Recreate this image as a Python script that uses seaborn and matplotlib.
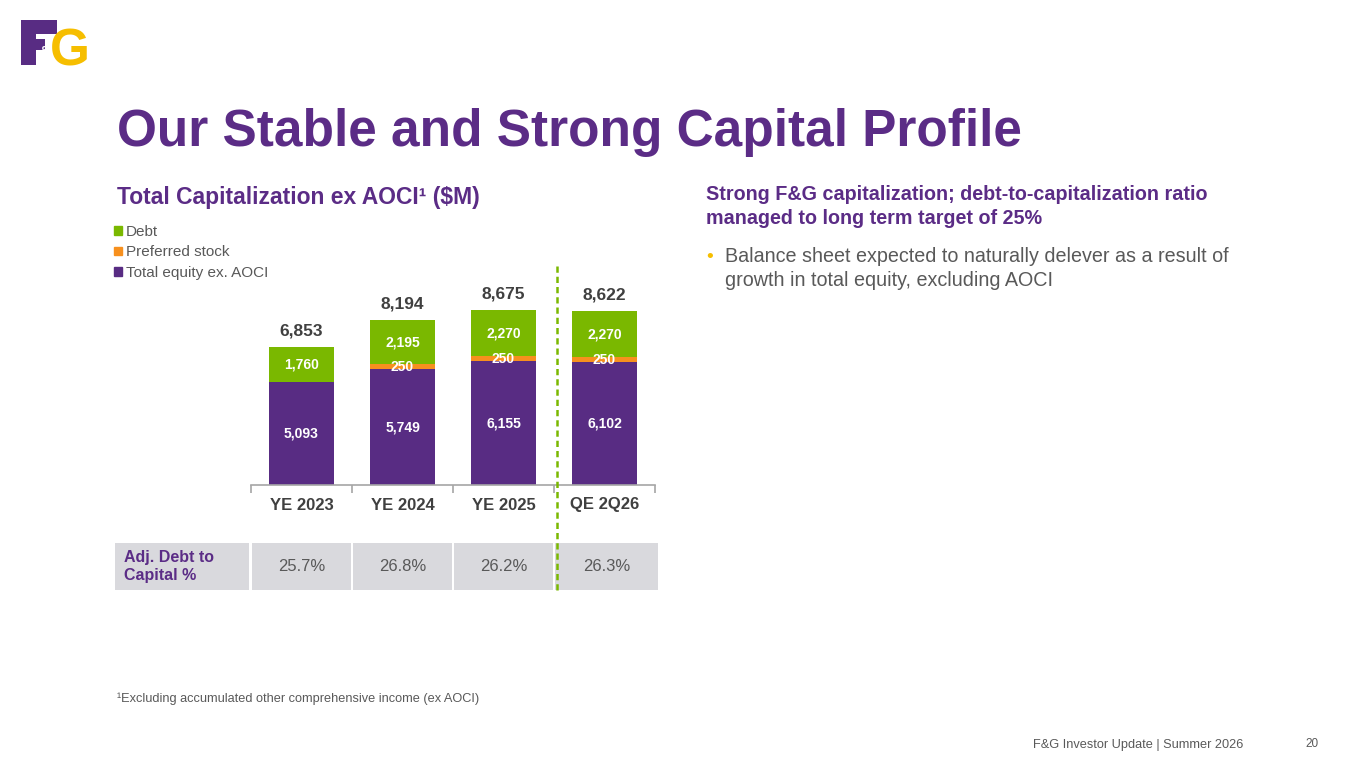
import matplotlib
matplotlib.use("Agg")
import matplotlib.pyplot as plt
from matplotlib.patches import Patch, Rectangle
import seaborn as sns
import pandas as pd

# Chart data
categories = ["YE 2023", "YE 2024", "YE 2025", "QE 2Q26"]
equity = [5093, 5749, 6155, 6102]
preferred = [0, 250, 250, 250]
debt = [1760, 2195, 2270, 2270]
totals = [6853, 8194, 8675, 8622]
ratios = ["25.7%", "26.8%", "26.2%", "26.3%"]

PURPLE = "#582C83"
TITLE = "#5B2C86"
GREEN = "#7AB800"
ORANGE = "#F7901E"
GOLD = "#F6BE00"
DARK = "#404040"
GREY = "#595959"
CELL = "#D9D9DD"

sns.set_theme(style="white")
plt.rcParams["font.family"] = ["Liberation Sans", "DejaVu Sans"]

W, H = 1365, 768
fx = lambda px: px / W
fy = lambda py: 1 - py / H

fig = plt.figure(figsize=(W / 100, H / 100), dpi=100)

df = pd.DataFrame({
    "cat": categories,
    "equity": equity,
    "eq_pref": [e + p for e, p in zip(equity, preferred)],
    "total": [e + p + d for e, p, d in zip(equity, preferred, debt)],
})

# table under the bars (drawn first so the dashed line sits on top)
tx = fig.add_axes([fx(115), fy(590), fx(658) - fx(115), (590 - 543) / H])
x0 = -0.5 - 136 / 101
tx.set_xlim(x0, 3.5 + 3 / 101)
tx.set_ylim(0, 1)
tx.axis("off")
tx.add_patch(Rectangle((x0, 0), 136 / 101 - 0.02, 1, color=CELL, lw=0))
tx.text(x0 + 0.09, 0.5, "Adj. Debt to\nCapital %", ha="left", va="center",
        color=TITLE, fontsize=11.5, fontweight="bold", linespacing=1.25)
for i, r in enumerate(ratios):
    right = 1.03 if i == len(ratios) - 1 else 0.98
    tx.add_patch(Rectangle((i - 0.49, 0), right, 1, color=CELL, lw=0))
    tx.text(i + (0.025 if i == len(ratios) - 1 else 0), 0.5, r, ha="center", va="center",
            color=GREY, fontsize=12)

# bar axes: baseline at y=485px, x from 251 to 655px
ymax = 10000
ax = fig.add_axes([fx(251), fy(485), fx(655) - fx(251), (ymax * 0.02014) / H])
ax.set_zorder(3)
ax.patch.set_alpha(0)
bw = 0.645
sns.barplot(data=df, x="cat", y="total", color=GREEN, width=bw, saturation=1, linewidth=0, ax=ax)
sns.barplot(data=df, x="cat", y="eq_pref", color=ORANGE, width=bw, saturation=1, linewidth=0, ax=ax)
sns.barplot(data=df, x="cat", y="equity", color=PURPLE, width=bw, saturation=1, linewidth=0, ax=ax)
ax.set_xlim(-0.5, 3.5)
ax.set_ylim(0, ymax)
ax.set_xlabel("")
ax.set_ylabel("")
ax.set_yticks([])
sns.despine(ax=ax, left=True, top=True, right=True)
ax.spines["bottom"].set_color("#A6A6A6")
ax.spines["bottom"].set_linewidth(1.2)
ax.set_xticks([-0.5, 0.5, 1.5, 2.5, 3.5], minor=True)
ax.tick_params(axis="x", which="minor", length=6, width=1.2, color="#A6A6A6", direction="out", bottom=True)
ax.tick_params(axis="x", which="major", length=0, pad=9)
for lab in ax.get_xticklabels():
    lab.set_fontsize(12)
    lab.set_fontweight("bold")
    lab.set_color(DARK)

for i in range(len(categories)):
    ax.text(i, equity[i] / 2, f"{equity[i]:,}", ha="center", va="center",
            color="white", fontsize=10, fontweight="bold")
    if preferred[i]:
        ax.text(i, equity[i] + preferred[i] / 2, f"{preferred[i]:,}", ha="center", va="center",
                color="white", fontsize=10, fontweight="bold")
    top = equity[i] + preferred[i]
    ax.text(i, top + debt[i] / 2, f"{debt[i]:,}", ha="center", va="center",
            color="white", fontsize=10, fontweight="bold")
    ax.text(i, totals[i] + 420, f"{totals[i]:,}", ha="center", va="bottom",
            color=DARK, fontsize=12.5, fontweight="bold")

# dashed separator before the latest quarter
ax.axvline(2.53, ymin=(485 - 590) / 201.4, ymax=(485 - 264) / 201.4, clip_on=False,
           color=GREEN, linewidth=1.8, dashes=(2.5, 1.6), zorder=5)

# legend
handles = [Patch(color=GREEN, label="Debt"),
           Patch(color=ORANGE, label="Preferred stock"),
           Patch(color=PURPLE, label="Total equity ex. AOCI")]
leg = fig.legend(handles=handles, loc="upper left", bbox_to_anchor=(fx(114), fy(225)),
                 frameon=False, fontsize=11, handlelength=0.5, handleheight=0.5,
                 handletextpad=0.3, labelspacing=0.42, borderpad=0, borderaxespad=0)
for t in leg.get_texts():
    t.set_color(GREY)

# texts
fig.text(fx(117), fy(146), "Our Stable and Strong Capital Profile", color=TITLE,
         fontsize=37, fontweight="bold", va="baseline")
fig.text(fx(117), fy(204), "Total Capitalization ex AOCI\u00b9 ($M)", color=TITLE,
         fontsize=16.5, fontweight="bold", va="baseline")
fig.text(fx(706), fy(200), "Strong F&G capitalization; debt-to-capitalization ratio",
         color=TITLE, fontsize=14.2, fontweight="bold", va="baseline")
fig.text(fx(706), fy(224), "managed to long term target of 25%",
         color=TITLE, fontsize=14.2, fontweight="bold", va="baseline")
fig.text(fx(706), fy(262), "\u2022", color=GOLD, fontsize=14, va="baseline")
fig.text(fx(725), fy(262), "Balance sheet expected to naturally delever as a result of",
         color=GREY, fontsize=14.2, va="baseline")
fig.text(fx(725), fy(286), "growth in total equity, excluding AOCI",
         color=GREY, fontsize=14.2, va="baseline")
fig.text(fx(117), fy(702), "\u00b9Excluding accumulated other comprehensive income (ex AOCI)",
         color=GREY, fontsize=9.2, va="baseline")
fig.text(fx(1033), fy(748), "F&G Investor Update | Summer 2026", color=GREY, fontsize=9.2, va="baseline")
fig.text(fx(1305), fy(747), "20", color=GREY, fontsize=8.5, va="baseline")

# logo: purple F block, gold G, small white ampersand
for (lx, ly, lw_, lh) in [(21, 20, 15, 45), (21, 20, 36, 14), (21, 39, 24, 11)]:
    fig.add_artist(Rectangle((fx(lx), fy(ly + lh)), lw_ / W, lh / H, color=PURPLE, lw=0,
                             transform=fig.transFigure))
fig.text(fx(50), fy(66), "G", color=GOLD, fontsize=37, fontweight="bold", va="baseline")
fig.text(fx(39), fy(55), "&", color="white", fontsize=9, fontweight="bold", va="baseline")

fig.savefig("out.png", dpi=100)
plt.close(fig)
